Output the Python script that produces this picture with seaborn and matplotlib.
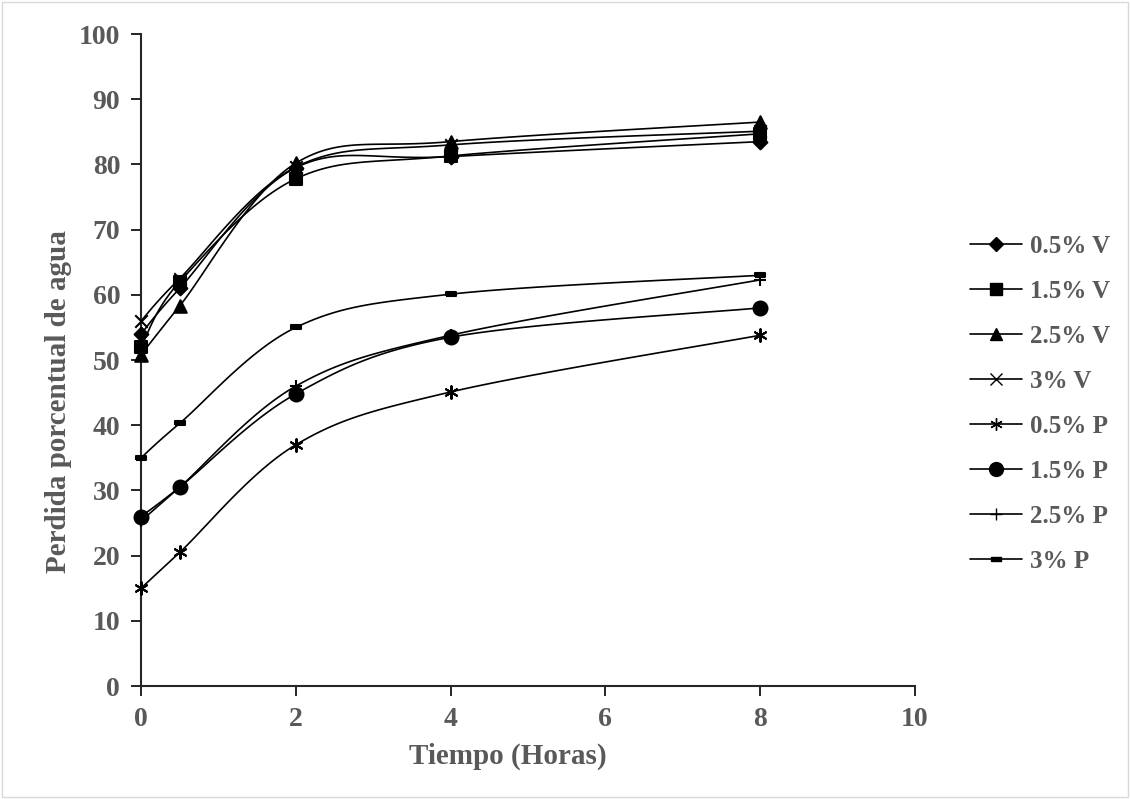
import numpy as np
import pandas as pd
import seaborn as sns
import matplotlib.pyplot as plt
from matplotlib.lines import Line2D
from matplotlib.patches import Rectangle

# data
tiempo = [0, 0.5, 2, 4, 8]
series = ["0.5% V", "1.5% V", "2.5% V", "3% V", "0.5% P", "1.5% P", "2.5% P", "3% P"]
v05 = [54.0, 61.0, 79.5, 81.2, 83.5]
v15 = [52.0, 62.0, 77.8, 81.3, 84.7]
v25 = [50.8, 58.3, 80.2, 83.5, 86.5]
v3 = [56.0, 62.5, 79.6, 83.0, 85.1]
p05 = [15.0, 20.5, 37.0, 45.1, 53.8]
p15 = [26.0, 30.5, 44.8, 53.5, 58.0]
p25 = [25.3, 30.5, 46.0, 53.8, 62.3]
p3 = [35.0, 40.3, 55.0, 60.1, 63.0]
valores = [v05, v15, v25, v3, p05, p15, p25, p3]

dash = [(-3, -1), (3, -1), (3, 1), (-3, 1), (-3, -1)]
marcadores = ["D", "s", "^", "x", (6, 2, 0), "o", "+", dash]
tamanos = [7, 9, 9, 9, 9, 10, 9, 7]

df = pd.DataFrame({
    "Tiempo": tiempo * len(series),
    "Perdida": sum(valores, []),
    "Serie": np.repeat(series, len(tiempo)),
})

sns.set_style("ticks")
plt.rcParams["font.family"] = ["Liberation Serif", "DejaVu Serif"]
gris = "#595959"

fig = plt.figure(figsize=(11.3, 7.99), dpi=100)
ax = fig.add_axes([0.1248, 0.1414, 0.6849, 0.816])
fig.patches.append(Rectangle((0.002, 0.002), 0.996, 0.996, transform=fig.transFigure,
                             fill=False, edgecolor="#d9d9d9", linewidth=1))

ax.set_xlim(0, 10)
ax.set_ylim(0, 100)

# Excel-like smoothed lines (bezier in screen proportions)
sx, sy = 774 / 10, 652 / 100


def suave(x, y, n=30):
    p = np.column_stack([np.array(x) * sx, np.array(y) * sy])
    ext = np.vstack([p[0], p, p[-1]])
    out = []
    for i in range(len(p) - 1):
        p0, p1, p2, p3_ = ext[i], ext[i + 1], ext[i + 2], ext[i + 3]
        c1 = p1 + (p2 - p0) / 6
        c2 = p2 - (p3_ - p1) / 6
        t = np.linspace(0, 1, n)[:, None]
        seg = ((1 - t) ** 3) * p1 + 3 * ((1 - t) ** 2) * t * c1 + 3 * (1 - t) * t ** 2 * c2 + t ** 3 * p2
        out.append(seg if i == 0 else seg[1:])
    out = np.vstack(out)
    return out[:, 0] / sx, out[:, 1] / sy


for s, m, z in zip(series, marcadores, tamanos):
    d = df[df["Serie"] == s]
    xs, ys = suave(d["Tiempo"].tolist(), d["Perdida"].tolist())
    ax.plot(xs, ys, color="black", linewidth=1.2, zorder=2)
    sns.scatterplot(data=d, x="Tiempo", y="Perdida", marker=m, color="black", s=z ** 2,
                    linewidth=1.5, edgecolor="black", legend=False, ax=ax, zorder=3, clip_on=False)

ax.set_xticks([0, 2, 4, 6, 8, 10])
ax.set_yticks(range(0, 101, 10))
ax.tick_params(direction="out", length=7, width=1.2, colors="black", labelcolor=gris,
               labelsize=20, pad=8)
for lab in ax.get_xticklabels() + ax.get_yticklabels():
    lab.set_fontweight("bold")
for sp in ["left", "bottom"]:
    ax.spines[sp].set_linewidth(1.5)
sns.despine(ax=ax)

ax.set_xlabel("Tiempo (Horas)", fontsize=21, fontweight="bold", color=gris)
ax.set_ylabel("Perdida porcentual de agua", fontsize=21, fontweight="bold", color=gris)
ax.xaxis.set_label_coords(0.474, -0.087)
ax.yaxis.set_label_coords(-0.089, 0.436)

handles = [Line2D([0], [0], color="black", linewidth=1.2, marker=m, markersize=z,
                  markerfacecolor="black", markeredgecolor="black")
           for m, z in zip(marcadores, tamanos)]
leg = fig.legend(handles, series, loc="upper left", bbox_to_anchor=(0.847, 0.722), frameon=False,
                 borderpad=0, handlelength=2.1, handletextpad=0.32, labelspacing=0.88,
                 prop={"size": 18, "weight": "bold"})
for t in leg.get_texts():
    t.set_color(gris)

fig.savefig("out.png", dpi=100)
